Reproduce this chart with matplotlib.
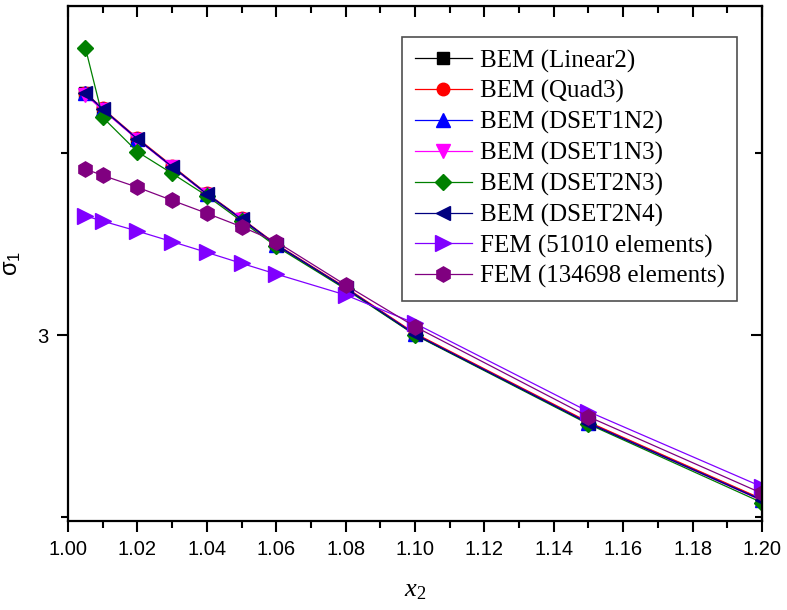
import matplotlib
matplotlib.use('Agg')
import matplotlib.pyplot as plt
from matplotlib.ticker import MultipleLocator, FixedLocator, FormatStrFormatter

# x2 positions
x2 = [1.005, 1.01, 1.02, 1.03, 1.04, 1.05, 1.06, 1.08, 1.10, 1.15, 1.20]

# sigma_1 values
bem_linear2 = [4.328, 4.240, 4.077, 3.925, 3.775, 3.637, 3.495, 3.258, 3.005, 2.518, 2.095]
bem_quad3   = [4.332, 4.245, 4.082, 3.930, 3.779, 3.641, 3.499, 3.262, 3.009, 2.522, 2.099]
bem_dset1n2 = [4.330, 4.242, 4.078, 3.926, 3.776, 3.638, 3.496, 3.258, 3.004, 2.516, 2.093]
bem_dset1n3 = [4.320, 4.236, 4.074, 3.922, 3.772, 3.634, 3.492, 3.255, 3.002, 2.514, 2.090]
bem_dset2n3 = [4.579, 4.196, 4.007, 3.888, 3.765, 3.626, 3.487, 3.252, 3.000, 2.510, 2.079]
bem_dset2n4 = [4.329, 4.241, 4.077, 3.925, 3.775, 3.637, 3.495, 3.257, 3.003, 2.515, 2.092]
fem_51010   = [3.655, 3.626, 3.571, 3.513, 3.454, 3.394, 3.335, 3.220, 3.064, 2.579, 2.166]
fem_134698  = [3.912, 3.877, 3.812, 3.740, 3.669, 3.595, 3.513, 3.275, 3.046, 2.551, 2.130]

labels = ['BEM (Linear2)', 'BEM (Quad3)', 'BEM (DSET1N2)', 'BEM (DSET1N3)',
          'BEM (DSET2N3)', 'BEM (DSET2N4)', 'FEM (51010 elements)', 'FEM (134698 elements)']

series = [bem_linear2, bem_quad3, bem_dset1n2, bem_dset1n3,
          bem_dset2n3, bem_dset2n4, fem_51010, fem_134698]
colors = ['#000000', '#FF0000', '#0000FF', '#FF00FF', '#008000', '#000080', '#8000FF', '#800080']
markers = ['s', 'o', '^', 'v', 'D', '<', '>', 'h']
msizes = [8, 9, 10, 10, 8, 10, 11, 11]

plt.rcParams['mathtext.fontset'] = 'custom'
plt.rcParams['mathtext.rm'] = 'Liberation Serif'
plt.rcParams['mathtext.it'] = 'Liberation Serif:italic'
plt.rcParams['mathtext.sf'] = 'Liberation Sans'

fig = plt.figure(figsize=(7.87, 6.10), dpi=100)
ax = fig.add_axes([68/787, 1-521/610, (762-68)/787, (521-6)/610])

for s, c, m, ms, lab in zip(series, colors, markers, msizes, labels):
    ax.plot(x2, s, color=c, marker=m, markersize=ms, linewidth=0.9, label=lab)

ax.set_xlim(1.00, 1.20)
ax.set_ylim(1.978, 4.808)

ax.xaxis.set_major_locator(MultipleLocator(0.02))
ax.xaxis.set_minor_locator(MultipleLocator(0.01))
ax.xaxis.set_major_formatter(FormatStrFormatter('%.2f'))
ax.yaxis.set_major_locator(FixedLocator([3]))
ax.yaxis.set_minor_locator(FixedLocator([2, 4]))

for sp in ax.spines.values():
    sp.set_linewidth(1.6)

ax.tick_params(axis='both', which='major', direction='out', length=8, width=1.5,
               labelsize=14.5, pad=6)
ax.tick_params(axis='both', which='minor', direction='out', length=5, width=1.5)

# inner ticks on top and right
ax2 = ax.secondary_xaxis('top')
ax2.xaxis.set_major_locator(MultipleLocator(0.02))
ax2.xaxis.set_minor_locator(MultipleLocator(0.01))
ax2.tick_params(which='major', direction='in', length=8, width=1.5, labeltop=False)
ax2.tick_params(which='minor', direction='in', length=5, width=1.5)
ax3 = ax.secondary_yaxis('right')
ax3.yaxis.set_major_locator(FixedLocator([3]))
ax3.yaxis.set_minor_locator(FixedLocator([2, 4]))
ax3.tick_params(which='major', direction='in', length=8, width=1.5, labelright=False)
ax3.tick_params(which='minor', direction='in', length=5, width=1.5)

for lbl in ax.get_xticklabels() + ax.get_yticklabels():
    lbl.set_family('Liberation Sans')

ax.set_xlabel(r'$x_2$', fontsize=19, labelpad=12)
ax.set_ylabel(r'σ$_{\mathsf{1}}$', fontsize=17, family='Liberation Sans', labelpad=10)

leg = ax.legend(loc='upper right', bbox_to_anchor=(737/787, 1-37/610),
                bbox_transform=fig.transFigure, borderaxespad=0,
                prop={'family': 'Liberation Serif', 'size': 18},
                frameon=True, fancybox=False, edgecolor='#222222', handlelength=2.3,
                handletextpad=0.3, labelspacing=0.31, borderpad=0.5)
leg.get_frame().set_linewidth(1.2)

fig.savefig('out.png', dpi=100)
